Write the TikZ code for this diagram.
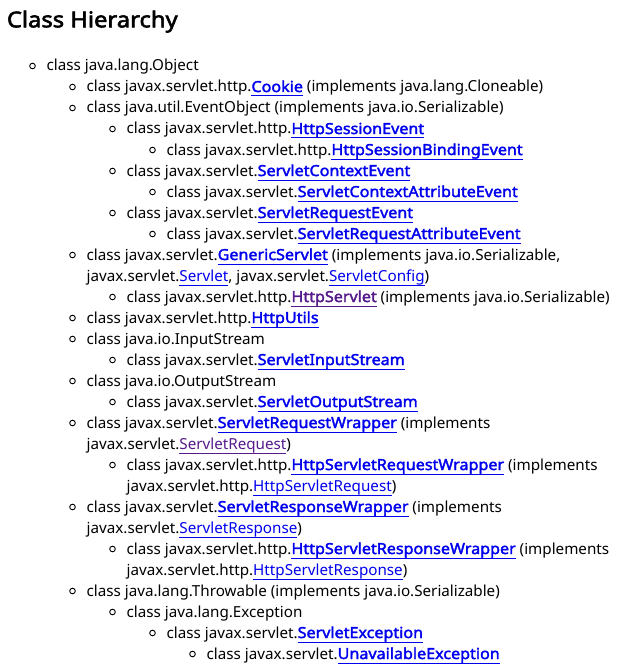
\documentclass[tikz,border=0pt]{standalone}
\usepackage{fontspec}
\setmainfont{Noto Sans}[BoldFont={Noto Sans},BoldFeatures={FakeBold=2.2,FakeStretch=1.06}]
\newfontfamily\ttlfont{Noto Sans}[FakeBold=2.6,FakeStretch=1.09]
\definecolor{lk}{HTML}{0000EE}
\definecolor{vis}{HTML}{551A8B}
\newcommand\lnkb[2][lk]{{\color{#1}\setbox0\hbox{\bfseries #2}\rlap{\rule[-4.5pt]{\wd0}{1pt}}\box0}}
\newcommand\lnkr[2][lk]{{\color{#1}\setbox0\hbox{#2}\rlap{\rule[-4.5pt]{\wd0}{1pt}}\box0}}
\tikzset{
  txt/.style={anchor=base west,inner sep=0pt,outer sep=0pt,font=\fontsize{15.2}{18}\selectfont,text=black},
  bul/.style={circle,draw=black,line width=0.9pt,minimum size=5.6pt,inner sep=0pt},
  ttl/.style={anchor=base west,inner sep=0pt,font=\ttlfont\fontsize{21.8}{26}\selectfont}
}
\newcommand\itm[4]{% name, level, line, text
  \pgfmathsetmacro\xx{46.7+40*(#2-1)}
  \pgfmathsetmacro\yy{-(71+21*(#3-1))}
  \node[bul] (b#1) at (\xx pt-14.2pt,\yy pt+5pt) {};
  \node[txt] (#1) at (\xx pt,\yy pt) {#4};
}
\newcommand\cnt[4]{%
  \pgfmathsetmacro\xx{46.7+40*(#2-1)}
  \pgfmathsetmacro\yy{-(71+21*(#3-1))}
  \node[txt] (#1) at (\xx pt,\yy pt) {#4};
}
\begin{document}
\begin{tikzpicture}
\useasboundingbox (0,0) rectangle (629pt,-666pt);
\node[ttl] (title) at (6.7pt,-27.3pt) {Class Hierarchy};
\itm{l1}{1}{1}{class java.lang.Object}
\itm{l2}{2}{2}{class javax.servlet.http.\lnkb{Cookie} (implements java.lang.Cloneable)}
\itm{l3}{2}{3}{class java.util.EventObject (implements java.io.Serializable)}
\itm{l4}{3}{4}{class javax.servlet.http.\lnkb{HttpSessionEvent}}
\itm{l5}{4}{5}{class javax.servlet.http.\lnkb{HttpSessionBindingEvent}}
\itm{l6}{3}{6}{class javax.servlet.\lnkb{ServletContextEvent}}
\itm{l7}{4}{7}{class javax.servlet.\lnkb{ServletContextAttributeEvent}}
\itm{l8}{3}{8}{class javax.servlet.\lnkb{ServletRequestEvent}}
\itm{l9}{4}{9}{class javax.servlet.\lnkb{ServletRequestAttributeEvent}}
\itm{l10}{2}{10}{class javax.servlet.\lnkb{GenericServlet} (implements java.io.Serializable,}
\cnt{l11}{2}{11}{javax.servlet.\lnkr{Servlet}, javax.servlet.\lnkr{ServletConfig})}
\itm{l12}{3}{12}{class javax.servlet.http.\lnkb[vis]{HttpServlet} (implements java.io.Serializable)}
\itm{l13}{2}{13}{class javax.servlet.http.\lnkb{HttpUtils}}
\itm{l14}{2}{14}{class java.io.InputStream}
\itm{l15}{3}{15}{class javax.servlet.\lnkb{ServletInputStream}}
\itm{l16}{2}{16}{class java.io.OutputStream}
\itm{l17}{3}{17}{class javax.servlet.\lnkb{ServletOutputStream}}
\itm{l18}{2}{18}{class javax.servlet.\lnkb{ServletRequestWrapper} (implements}
\cnt{l19}{2}{19}{javax.servlet.\lnkr[vis]{ServletRequest})}
\itm{l20}{3}{20}{class javax.servlet.http.\lnkb{HttpServletRequestWrapper} (implements}
\cnt{l21}{3}{21}{javax.servlet.http.\lnkr{HttpServletRequest})}
\itm{l22}{2}{22}{class javax.servlet.\lnkb{ServletResponseWrapper} (implements}
\cnt{l23}{2}{23}{javax.servlet.\lnkr{ServletResponse})}
\itm{l24}{3}{24}{class javax.servlet.http.\lnkb{HttpServletResponseWrapper} (implements}
\cnt{l25}{3}{25}{javax.servlet.http.\lnkr{HttpServletResponse})}
\itm{l26}{2}{26}{class java.lang.Throwable (implements java.io.Serializable)}
\itm{l27}{3}{27}{class java.lang.Exception}
\itm{l28}{4}{28}{class javax.servlet.\lnkb{ServletException}}
\itm{l29}{5}{29}{class javax.servlet.\lnkb{UnavailableException}}
\end{tikzpicture}
\end{document}
